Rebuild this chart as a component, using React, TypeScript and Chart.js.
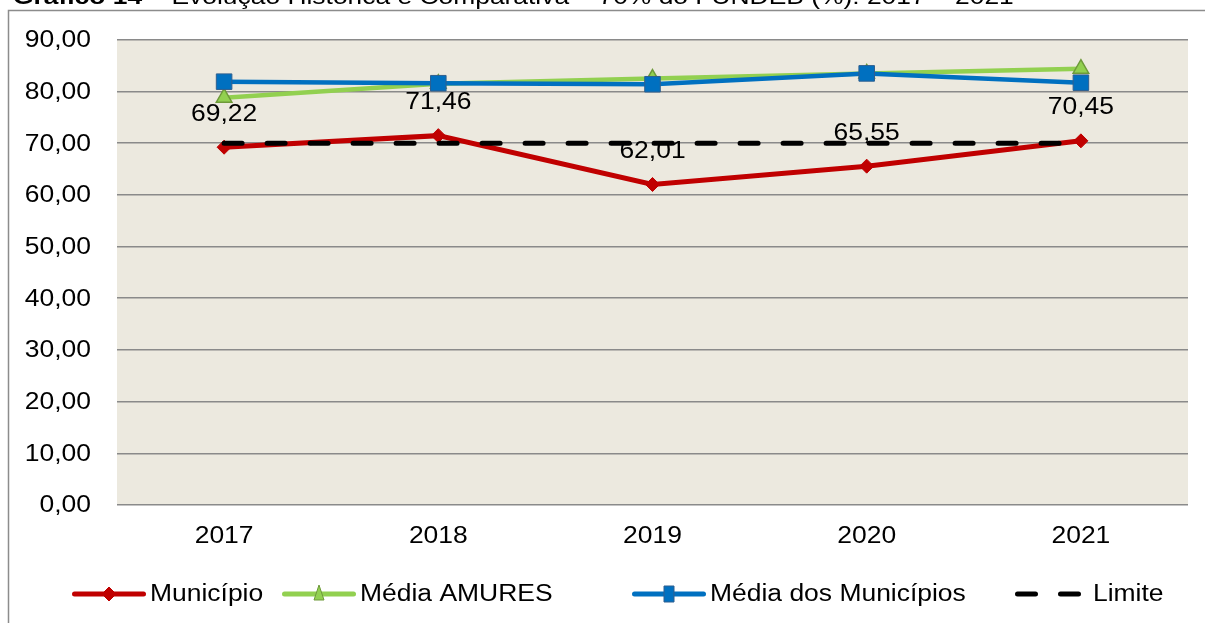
import { useEffect, useRef } from "react";
import { Chart, registerables } from "chart.js";

Chart.register(...registerables);

const TITLE_BOLD = "Gráfico 14";
const TITLE_REST = " – Evolução Histórica e Comparativa – 70% do FUNDEB (%): 2017 – 2021";

const years = ["2017", "2018", "2019", "2020", "2021"];
const municipio = [69.22, 71.46, 62.01, 65.55, 70.45];
const mediaAmures = [78.8, 81.5, 82.5, 83.5, 84.4];
const mediaMunicipios = [81.9, 81.6, 81.4, 83.5, 81.7];
const limite = [70, 70, 70, 70, 70];

const Y_MIN = 0;
const Y_MAX = 90;
const Y_STEP = 10;

const FONT = "'Liberation Sans', Arial, sans-serif";
const fmt = (v: number) => v.toFixed(2).replace(".", ",");

const W = 1205;
const H = 623;
const SX = 1.15;

function drawText(
  ctx: CanvasRenderingContext2D,
  text: string,
  x: number,
  y: number,
  align: CanvasTextAlign,
  sx: number = SX,
  baseline: CanvasTextBaseline = "middle"
) {
  ctx.save();
  ctx.translate(x, y);
  ctx.scale(sx, 1);
  ctx.textAlign = align;
  ctx.textBaseline = baseline;
  ctx.fillText(text, 0, 0);
  ctx.restore();
}

export default function App() {
  const ref = useRef<HTMLCanvasElement | null>(null);

  useEffect(() => {
    const canvas = ref.current;
    if (!canvas) return;

    const bgPlugin = {
      id: "bgPlugin",
      beforeDraw(chart: any) {
        const { ctx, chartArea } = chart;
        ctx.save();
        ctx.fillStyle = "#ffffff";
        ctx.fillRect(0, 0, chart.width, chart.height);
        ctx.strokeStyle = "#8c8c8c";
        ctx.lineWidth = 1.5;
        ctx.strokeRect(8.5, 10.5, chart.width + 40, chart.height + 40);
        ctx.fillStyle = "#ECE9DF";
        ctx.fillRect(chartArea.left, chartArea.top, chartArea.right - chartArea.left, chartArea.bottom - chartArea.top);
        ctx.restore();
      },
    };

    const tickPlugin = {
      id: "tickPlugin",
      afterDraw(chart: any) {
        const { ctx } = chart;
        const ys = chart.scales.y;
        const xs = chart.scales.x;
        ctx.save();
        ctx.fillStyle = "#000";
        ctx.font = `23px ${FONT}`;
        ys.ticks.forEach((t: any) => {
          drawText(ctx, fmt(Number(t.value)), 91, ys.getPixelForValue(t.value) + 1, "right");
        });
        (chart.data.labels as string[]).forEach((lab: string, i: number) => {
          drawText(ctx, lab, xs.getPixelForValue(i), chart.chartArea.bottom + 32, "center");
        });
        ctx.restore();
      },
    };

    const labelPlugin = {
      id: "labelPlugin",
      afterDatasetsDraw(chart: any) {
        const { ctx } = chart;
        const meta = chart.getDatasetMeta(0);
        const data = chart.data.datasets[0].data as number[];
        ctx.save();
        ctx.fillStyle = "#000";
        ctx.font = `23px ${FONT}`;
        meta.data.forEach((pt: any, i: number) => {
          drawText(ctx, fmt(data[i]), pt.x, pt.y - 33, "center");
        });
        ctx.restore();
      },
    };

    const drawMarker = (ctx: CanvasRenderingContext2D, style: string, x: number, y: number, fill: string, stroke: string) => {
      ctx.save();
      ctx.fillStyle = fill;
      ctx.strokeStyle = stroke;
      ctx.lineWidth = 1;
      ctx.setLineDash([]);
      ctx.beginPath();
      if (style === "rectRot") {
        ctx.moveTo(x - 7, y);
        ctx.lineTo(x, y - 7);
        ctx.lineTo(x + 7, y);
        ctx.lineTo(x, y + 7);
        ctx.closePath();
      } else if (style === "triangle") {
        ctx.moveTo(x, y - 9);
        ctx.lineTo(x + 5, y + 6);
        ctx.lineTo(x - 5, y + 6);
        ctx.closePath();
      } else if (style === "rect") {
        ctx.rect(x - 5, y - 8, 10, 16);
      }
      ctx.fill();
      ctx.stroke();
      ctx.restore();
    };

    const legendPlugin = {
      id: "customLegend",
      afterDraw(chart: any) {
        const { ctx } = chart;
        const starts = [72, 282, 632, 1015];
        const y = 594;
        ctx.save();
        ctx.font = `23px ${FONT}`;
        chart.data.datasets.forEach((ds: any, i: number) => {
          const x0 = starts[i];
          ctx.save();
          ctx.strokeStyle = ds.borderColor;
          ctx.lineWidth = 5;
          ctx.lineCap = "round";
          let tx = x0 + 78;
          if (ds.borderDash && ds.borderDash.length) {
            ctx.setLineDash(ds.borderDash);
            ctx.beginPath();
            ctx.moveTo(x0 + 2.5, y);
            ctx.lineTo(x0 + 66, y);
            ctx.stroke();
          } else {
            ctx.beginPath();
            ctx.moveTo(x0 + 2.5, y);
            ctx.lineTo(x0 + 71.5, y);
            ctx.stroke();
          }
          ctx.restore();
          if (ds.pointStyle && ds.pointRadius > 0) {
            drawMarker(ctx, ds.pointStyle, x0 + 37, y, ds.pointBackgroundColor, ds.pointBorderColor);
          }
          ctx.fillStyle = "#000";
          drawText(ctx, ds.label, tx, y + 1, "left");
        });
        ctx.restore();
      },
    };

    const titlePlugin = {
      id: "titlePlugin",
      afterDraw(chart: any) {
        const { ctx } = chart;
        ctx.save();
        ctx.fillStyle = "#000";
        const x0 = 13;
        const tsx = 1.2;
        ctx.font = `bold 22px ${FONT}`;
        drawText(ctx, TITLE_BOLD, x0, 4, "left", tsx, "alphabetic");
        const bw = ctx.measureText(TITLE_BOLD).width * tsx;
        ctx.font = `22px ${FONT}`;
        drawText(ctx, TITLE_REST, x0 + bw, 4, "left", tsx, "alphabetic");
        ctx.restore();
      },
    };

    const chart = new Chart(canvas, {
      type: "line",
      data: {
        labels: years,
        datasets: [
          {
            label: "Município",
            data: municipio,
            borderColor: "#C00000",
            backgroundColor: "#C00000",
            borderWidth: 5,
            pointStyle: "rectRot",
            pointRadius: 7,
            pointBackgroundColor: "#C00000",
            pointBorderColor: "#C00000",
            pointBorderWidth: 1,
            tension: 0,
            order: 4,
          },
          {
            label: "Média AMURES",
            data: mediaAmures,
            borderColor: "#92D050",
            backgroundColor: "#92D050",
            borderWidth: 4.5,
            pointStyle: "triangle",
            pointRadius: 9,
            pointBackgroundColor: "#92D050",
            pointBorderColor: "#6E9A3A",
            pointBorderWidth: 1.5,
            tension: 0,
            order: 3,
          },
          {
            label: "Média dos Municípios",
            data: mediaMunicipios,
            borderColor: "#0070C0",
            backgroundColor: "#0070C0",
            borderWidth: 4.5,
            pointStyle: "rect",
            pointRadius: 11,
            pointBackgroundColor: "#0070C0",
            pointBorderColor: "#2F5F8F",
            pointBorderWidth: 1,
            tension: 0,
            order: 2,
          },
          {
            label: "Limite",
            data: limite,
            borderColor: "#000000",
            backgroundColor: "#000000",
            borderWidth: 5,
            borderDash: [18, 25],
            borderCapStyle: "round",
            pointRadius: 0,
            tension: 0,
            order: 1,
          },
        ],
      },
      options: {
        responsive: false,
        animation: false,
        devicePixelRatio: 1,
        layout: { padding: { left: 0, top: 39, right: 17, bottom: 0 } },
        plugins: {
          legend: { display: false },
          title: { display: false },
          tooltip: { enabled: false },
        },
        scales: {
          x: {
            offset: true,
            grid: { display: false },
            border: { display: false },
            ticks: { color: "rgba(0,0,0,0)", font: { family: FONT, size: 23 }, padding: 18 },
            afterFit: (s: any) => {
              s.height = 118;
            },
          },
          y: {
            min: Y_MIN,
            max: Y_MAX,
            ticks: {
              stepSize: Y_STEP,
              color: "rgba(0,0,0,0)",
              font: { family: FONT, size: 23 },
              padding: 26,
              callback: (v: any) => fmt(Number(v)),
            },
            grid: { color: "#8A8A8A", lineWidth: 1.5, drawTicks: false },
            border: { display: false },
            afterFit: (s: any) => {
              s.width = 117;
            },
          },
        },
      } as any,
      plugins: [bgPlugin, labelPlugin, tickPlugin, legendPlugin, titlePlugin],
    });

    return () => chart.destroy();
  }, []);

  return (
    <div style={{ position: "absolute", left: 0, top: 0, width: W, height: H }}>
      <canvas ref={ref} width={W} height={H} style={{ display: "block", width: W, height: H }} />
    </div>
  );
}
